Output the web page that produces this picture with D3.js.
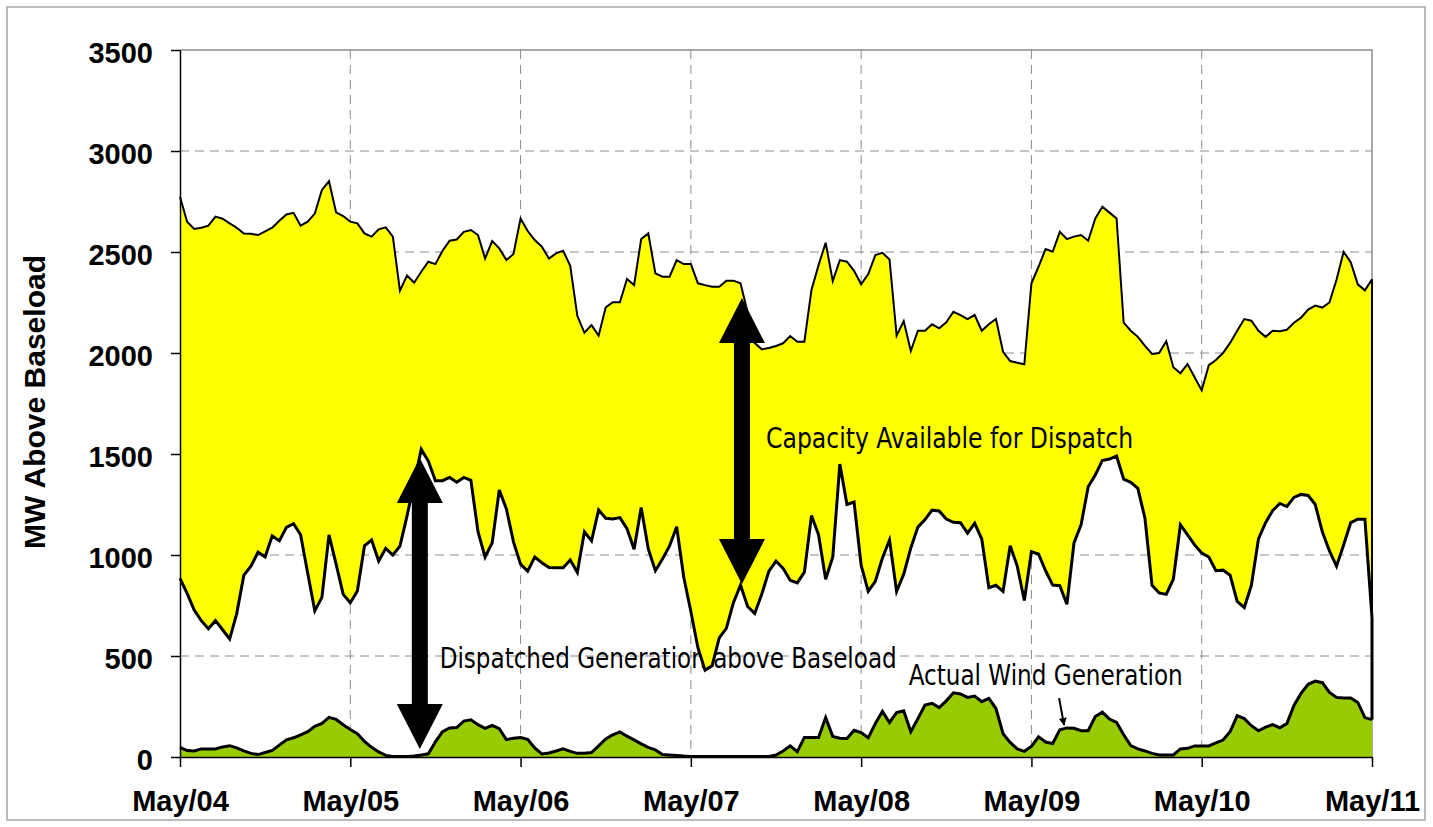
<!DOCTYPE html>
<html>
<head>
<meta charset="utf-8">
<script src="https://cdn.jsdelivr.net/npm/d3@7"></script>
<style>
  body { margin: 0; background: #fff; }
</style>
</head>
<body>
<div id="chart"></div>
<script>
// hourly values, May/04 00:00 .. May/11 00:00
const dayLabels = ["May/04", "May/05", "May/06", "May/07", "May/08", "May/09", "May/10", "May/11"];
const yTicks = [0, 500, 1000, 1500, 2000, 2500, 3000, 3500];

// top of the capacity band (MW above baseload)
const upper = [
  2774, 2650, 2614, 2620, 2630, 2675, 2665, 2642, 2620, 2592,
  2590, 2584, 2602, 2620, 2655, 2686, 2694, 2630, 2650, 2690,
  2807, 2850, 2696, 2678, 2650, 2642, 2592, 2576, 2612, 2622,
  2576, 2308, 2384, 2348, 2402, 2452, 2440, 2506, 2556, 2562,
  2600, 2609, 2584, 2468, 2554, 2518, 2460, 2490, 2666, 2604,
  2559, 2526, 2468, 2493, 2506, 2432, 2184, 2100, 2138, 2086,
  2226, 2251, 2251, 2366, 2336, 2564, 2592, 2394, 2378, 2378,
  2460, 2440, 2440, 2345, 2336, 2328, 2328, 2358, 2358, 2345,
  2200, 2050, 2018, 2025, 2035, 2048, 2084, 2056, 2056, 2312,
  2435, 2546, 2356, 2460, 2452, 2407, 2340, 2391, 2485, 2496,
  2463, 2086, 2158, 2010, 2110, 2110, 2142, 2122, 2152, 2204,
  2188, 2168, 2188, 2110, 2142, 2168, 2006, 1960, 1952, 1944,
  2345, 2427, 2515, 2501, 2600, 2564, 2576, 2584, 2556, 2666,
  2724, 2695, 2666, 2150, 2110, 2080, 2035, 1995, 2000, 2058,
  1930, 1900, 1945, 1880, 1815, 1940, 1965, 2000, 2050, 2110,
  2168, 2160, 2110, 2080, 2110, 2108, 2115, 2150, 2175, 2215,
  2235, 2225, 2250, 2363, 2501, 2450, 2340, 2310, 2365
];

// dispatched generation above baseload
const lower = [
  884, 810, 727, 675, 635, 675, 630, 584, 711, 900,
  945, 1014, 991, 1095, 1070, 1137, 1155, 1100, 910, 724,
  790, 1100, 955, 805, 764, 822, 1046, 1074, 970, 1033,
  1000, 1044, 1194, 1358, 1523, 1465, 1368, 1368, 1384, 1360,
  1384, 1370, 1115, 990, 1060, 1322, 1228, 1065, 955, 920,
  990, 962, 938, 937, 937, 975, 914, 1115, 1070, 1223,
  1182, 1178, 1185, 1130, 1028, 1235, 1030, 922, 980, 1045,
  1140, 890, 720, 540, 430, 452, 590, 637, 764, 851,
  745, 710, 807, 920, 970, 934, 875, 862, 915, 1195,
  1100, 880, 990, 1450, 1250, 1262, 950, 820, 870, 985,
  1074, 820, 905, 1035, 1138, 1175, 1222, 1218, 1178, 1162,
  1160, 1108, 1157, 1079, 838, 850, 820, 1046, 945, 775,
  1016, 1005, 922, 851, 848, 756, 1060, 1150, 1338, 1396,
  1468, 1475, 1490, 1375, 1360, 1330, 1182, 850, 812, 805,
  880, 1150, 1100, 1050, 1010, 990, 922, 925, 900, 770,
  740, 850, 1080, 1160, 1220, 1255, 1240, 1285, 1300, 1295,
  1250, 1115, 1020, 945, 1050, 1160, 1177, 1177, 690
];

// actual wind generation
const wind = [
  48, 32, 30, 40, 40, 40, 50, 56, 45, 30,
  18, 12, 22, 33, 59, 85, 95, 110, 125, 152,
  166, 196, 186, 160, 136, 115, 77, 48, 25, 8,
  3, 3, 3, 5, 10, 16, 75, 125, 144, 146,
  178, 184, 160, 142, 157, 140, 86, 93, 96, 88,
  45, 15, 20, 30, 40, 28, 18, 18, 22, 55,
  89, 110, 124, 103, 85, 65, 48, 35, 12, 10,
  8, 5, 3, 2, 2, 2, 2, 2, 2, 2,
  2, 2, 2, 3, 10, 30, 55, 26, 97, 97,
  97, 195, 102, 93, 92, 132, 121, 95, 166, 226,
  171, 220, 229, 125, 190, 257, 266, 245, 278, 318,
  312, 295, 302, 274, 290, 240, 115, 72, 40, 28,
  52, 100, 74, 67, 135, 144, 142, 130, 130, 200,
  222, 188, 171, 110, 56, 40, 30, 18, 10, 10,
  10, 40, 43, 55, 55, 55, 70, 84, 125, 205,
  190, 155, 130, 148, 160, 145, 165, 255, 315, 360,
  376, 368, 320, 295, 292, 292, 270, 195, 185
];

const margin = { top: 50, right: 61, bottom: 70, left: 180 },
      width = 1433 - margin.left - margin.right,
      height = 827 - margin.top - margin.bottom;

const root = d3.select("#chart")
  .append("svg")
  .attr("width", 1433)
  .attr("height", 827)
  .style("font-family", "'Liberation Sans', Arial, sans-serif");

root.append("rect")
  .attr("x", 7).attr("y", 7)
  .attr("width", 1418).attr("height", 813)
  .attr("fill", "none")
  .attr("stroke", "#a6a6a6")
  .attr("stroke-width", 1.5);

const svg = root.append("g")
  .attr("transform", `translate(${margin.left},${margin.top})`);

const last = upper.length - 1;
const hours = d3.range(upper.length);

const x = d3.scaleLinear().domain([0, last]).range([0, width]);
const y = d3.scaleLinear().domain([0, 3500]).range([height, 0]);

// gridlines
const gridColor = "#8c8c8c";
svg.append("g")
  .selectAll("line")
  .data(yTicks.filter(v => v > 0 && v < 3500))
  .join("line")
  .attr("x1", 0).attr("x2", width)
  .attr("y1", d => y(d)).attr("y2", d => y(d))
  .attr("stroke", gridColor)
  .attr("stroke-dasharray", "9,6");

svg.append("g")
  .selectAll("line")
  .data(d3.range(24, last, 24))
  .join("line")
  .attr("x1", d => x(d)).attr("x2", d => x(d))
  .attr("y1", 0).attr("y2", height)
  .attr("stroke", gridColor)
  .attr("stroke-dasharray", "9,6");

// plot frame, top and right
svg.append("path")
  .attr("fill", "none")
  .attr("stroke", gridColor)
  .attr("stroke-width", 1.5)
  .attr("d", `M0,0H${width}V${height}`);

const noteFont = "'Liberation Sans Narrow', 'Arial Narrow', 'DejaVu Sans Condensed', sans-serif";

function note(g, label, hour, value, len) {
  return g.append("text")
    .attr("x", x(hour))
    .attr("y", y(value))
    .attr("textLength", len)
    .attr("lengthAdjust", "spacingAndGlyphs")
    .style("font-family", noteFont)
    .style("font-size", "28px")
    .text(label);
}

// this label sits behind the areas in the original
note(svg, "Dispatched Generation above Baseload", 36.6, 440, 457);

// capacity band between dispatched and available
svg.append("path")
  .datum(hours)
  .attr("fill", "#ffff00")
  .attr("d", d3.area()
    .x(i => x(i))
    .y0(i => y(lower[i]))
    .y1(i => y(upper[i])));

svg.append("path")
  .datum(hours)
  .attr("fill", "#99cc00")
  .attr("d", d3.area()
    .x(i => x(i))
    .y0(y(0))
    .y1(i => y(wind[i])));

const line = d3.line().x(i => x(i));

svg.append("path")
  .datum(hours)
  .attr("fill", "none")
  .attr("stroke", "#000")
  .attr("stroke-width", 2)
  .attr("d", line.y(i => y(upper[i])));

svg.append("path")
  .datum(hours)
  .attr("fill", "none")
  .attr("stroke", "#000")
  .attr("stroke-width", 3)
  .attr("d", line.y(i => y(lower[i])));

svg.append("path")
  .datum(hours)
  .attr("fill", "none")
  .attr("stroke", "#000")
  .attr("stroke-width", 3)
  .attr("d", line.y(i => y(wind[i])));

// closing edges of the stacked areas at the last hour
svg.append("path")
  .attr("stroke", "#000").attr("stroke-width", 2)
  .attr("d", d3.line()([[x(last), y(upper[last])], [x(last), y(lower[last])]]));
svg.append("path")
  .attr("stroke", "#000").attr("stroke-width", 3)
  .attr("d", d3.line()([[x(last), y(lower[last])], [x(last), y(wind[last])]]));

// axes
const yAxis = svg.append("g")
  .call(d3.axisLeft(y)
    .tickValues(yTicks)
    .tickFormat(d3.format("d"))
    .tickSize(9).tickSizeOuter(0).tickPadding(18));

const xAxis = svg.append("g")
  .attr("transform", `translate(0,${height})`)
  .call(d3.axisBottom(x)
    .tickValues(d3.range(0, last + 1, 24))
    .tickFormat((d, i) => dayLabels[i])
    .tickSize(10).tickSizeOuter(0).tickPadding(23));

[yAxis, xAxis].forEach(g => {
  g.select(".domain").attr("stroke", "#000").attr("stroke-width", 1.5);
  g.selectAll(".tick line").attr("stroke", "#000").attr("stroke-width", 1.5);
  g.selectAll("text")
    .attr("fill", "#000")
    .style("font-family", "'Liberation Sans', Arial, sans-serif")
    .style("font-size", "29px")
    .style("font-weight", "bold");
});
yAxis.selectAll("text").attr("dy", "0.42em");

root.append("text")
  .attr("transform", "translate(45,402) rotate(-90)")
  .attr("text-anchor", "middle")
  .style("font-size", "30px")
  .style("font-weight", "bold")
  .text("MW Above Baseload");

note(svg, "Capacity Available for Dispatch", 82.6, 1530, 367);
note(svg, "Actual Wind Generation", 102.7, 356, 274);

// small pointer to the wind curve
root.append("defs").append("marker")
  .attr("id", "head")
  .attr("viewBox", "0 0 10 10")
  .attr("refX", 9).attr("refY", 5)
  .attr("markerWidth", 4).attr("markerHeight", 4)
  .attr("orient", "auto")
  .append("path")
  .attr("d", "M0,0L10,5L0,10Z")
  .attr("fill", "#000");

svg.append("line")
  .attr("x1", x(123.9)).attr("y1", y(292))
  .attr("x2", x(124.6)).attr("y2", y(158))
  .attr("stroke", "#000")
  .attr("stroke-width", 2)
  .attr("marker-end", "url(#head)");

// double-headed arrows
const arrows = [
  { hour: 33.8, from: 40, to: 1480 },
  { hour: 79.2, from: 856, to: 2272 }
];

function arrowPoints(d) {
  const cx = x(d.hour), top = y(d.to), bot = y(d.from);
  const hw = 23, sw = 8, hl = 45;
  return [
    [cx, top], [cx + hw, top + hl], [cx + sw, top + hl], [cx + sw, bot - hl],
    [cx + hw, bot - hl], [cx, bot], [cx - hw, bot - hl], [cx - sw, bot - hl],
    [cx - sw, top + hl], [cx - hw, top + hl]
  ].map(p => p.join(",")).join(" ");
}

svg.append("g")
  .selectAll("polygon")
  .data(arrows)
  .join("polygon")
  .attr("points", arrowPoints)
  .attr("fill", "#000");
</script>
</body>
</html>
